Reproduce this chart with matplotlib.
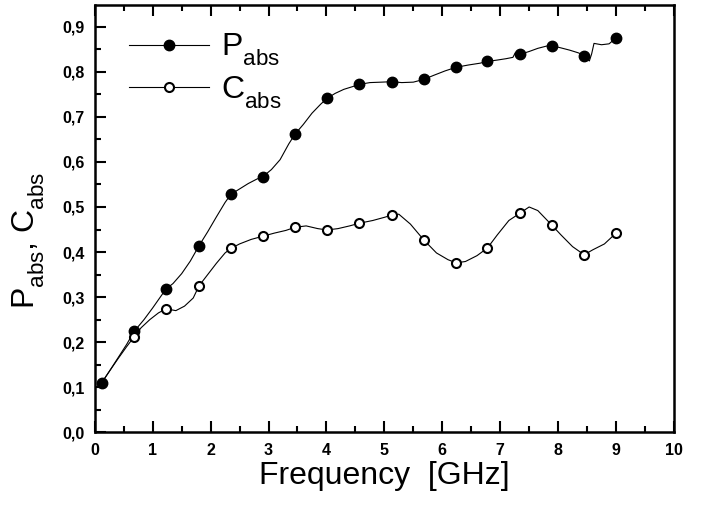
import numpy as np
import matplotlib
matplotlib.use('Agg')
import matplotlib.pyplot as plt
import matplotlib._mathtext as mtext
from matplotlib.ticker import MultipleLocator, FuncFormatter

plt.rcParams['font.family'] = ['Liberation Sans', 'DejaVu Sans']
plt.rcParams['mathtext.fontset'] = 'custom'
plt.rcParams['mathtext.rm'] = 'Liberation Sans'
plt.rcParams['mathtext.it'] = 'Liberation Sans'
# subscripts sit lower in the original
mtext.FontConstantsBase.sub1 = 0.6

# marker positions (GHz) and values
f_mark = [0.12, 0.68, 1.23, 1.80, 2.35, 2.90, 3.46, 4.01, 4.57, 5.13, 5.68, 6.24, 6.78, 7.35, 7.89, 8.45, 9.00]
p_mark = [0.110, 0.224, 0.318, 0.414, 0.528, 0.567, 0.662, 0.741, 0.772, 0.778, 0.783, 0.810, 0.823, 0.839, 0.858, 0.836, 0.875]
c_mark = [0.110, 0.212, 0.274, 0.325, 0.408, 0.435, 0.455, 0.449, 0.464, 0.482, 0.427, 0.376, 0.409, 0.487, 0.460, 0.394, 0.442]

# the measured curves, read at a denser set of frequencies
f_p = [0.12, 0.25, 0.40, 0.55, 0.68, 0.85, 1.00, 1.12, 1.23, 1.35, 1.50, 1.65, 1.80, 1.95, 2.10, 2.25, 2.35,
       2.50, 2.65, 2.80, 2.90, 3.05, 3.20, 3.35, 3.46, 3.60, 3.75, 3.90, 4.01, 4.15, 4.30, 4.45, 4.57,
       4.75, 4.95, 5.13, 5.30, 5.50, 5.68, 5.85, 6.05, 6.24, 6.45, 6.65, 6.78, 6.95, 7.10, 7.22, 7.26,
       7.35, 7.50, 7.65, 7.80, 7.89, 8.05, 8.20, 8.35, 8.45, 8.54, 8.58, 8.62, 8.75, 8.88, 9.00]
p_val = [0.110, 0.135, 0.165, 0.195, 0.224, 0.250, 0.276, 0.298, 0.318, 0.330, 0.352, 0.380, 0.414, 0.445, 0.478, 0.510, 0.528,
         0.540, 0.552, 0.562, 0.567, 0.583, 0.605, 0.640, 0.662, 0.683, 0.708, 0.728, 0.741, 0.752, 0.761, 0.767, 0.772,
         0.776, 0.777, 0.778, 0.776, 0.777, 0.783, 0.792, 0.802, 0.810, 0.815, 0.819, 0.823, 0.826, 0.829, 0.832, 0.842,
         0.839, 0.845, 0.852, 0.857, 0.858, 0.853, 0.848, 0.842, 0.836, 0.824, 0.840, 0.863, 0.860, 0.862, 0.875]

f_c = [0.12, 0.25, 0.40, 0.55, 0.68, 0.80, 0.95, 1.10, 1.23, 1.40, 1.55, 1.70, 1.80, 1.95, 2.10, 2.25, 2.35,
       2.50, 2.70, 2.90, 3.10, 3.30, 3.46, 3.65, 3.85, 4.01, 4.20, 4.40, 4.57, 4.80, 5.00, 5.13, 5.25,
       5.45, 5.68, 5.90, 6.10, 6.24, 6.40, 6.60, 6.78, 6.95, 7.15, 7.35, 7.50, 7.65, 7.80, 7.89, 8.05,
       8.25, 8.45, 8.60, 8.80, 9.00]
c_val = [0.110, 0.135, 0.163, 0.190, 0.212, 0.232, 0.250, 0.265, 0.274, 0.270, 0.280, 0.298, 0.325, 0.350, 0.375, 0.398, 0.408,
         0.418, 0.428, 0.435, 0.442, 0.448, 0.455, 0.458, 0.452, 0.449, 0.452, 0.458, 0.464, 0.470, 0.477, 0.482, 0.484,
         0.462, 0.427, 0.398, 0.383, 0.376, 0.379, 0.392, 0.409, 0.438, 0.470, 0.487, 0.500, 0.492, 0.472, 0.460, 0.438,
         0.412, 0.394, 0.405, 0.418, 0.442]

fig = plt.figure(figsize=(7.02, 5.08), dpi=100)
ax = fig.add_axes([0.135, 0.149, 0.825, 0.841])

ax.plot(f_p, p_val, color='black', lw=0.8)
ax.plot(f_c, c_val, color='black', lw=0.8)
ax.plot(f_mark, p_mark, 'o', color='black', ms=7.5)
ax.plot(f_mark[1:], c_mark[1:], 'o', mfc='white', mec='black', mew=1.5, ms=6.5)

# legend handles
ax.plot([], [], '-o', color='black', lw=0.8, ms=7.5, label=r'P$_{\mathrm{abs}}$')
ax.plot([], [], '-o', color='black', lw=0.8, mfc='white', mec='black', mew=1.5, ms=6.5, label=r'C$_{\mathrm{abs}}$')
handles, labels = ax.get_legend_handles_labels()
ax.legend(handles, labels, loc='upper left', bbox_to_anchor=(0.02, 0.99), frameon=False,
          fontsize=23, handlelength=2.5, handletextpad=0.4, labelspacing=0.2, borderpad=0.2)

ax.set_xlim(0, 10)
ax.set_ylim(0, 0.948)
ax.xaxis.set_major_locator(MultipleLocator(1))
ax.xaxis.set_minor_locator(MultipleLocator(0.5))
ax.yaxis.set_major_locator(MultipleLocator(0.1))
ax.yaxis.set_minor_locator(MultipleLocator(0.05))
ax.yaxis.set_major_formatter(FuncFormatter(lambda v, _: f'{v:.1f}'.replace('.', ',')))

ax.tick_params(which='both', direction='in', top=True, right=False, width=1.5)
ax.tick_params(which='major', length=8, labelsize=11.5)
ax.tick_params(axis='y', which='major', pad=7)
ax.tick_params(axis='x', which='major', pad=8)
ax.tick_params(which='minor', length=4)
for lab in ax.get_xticklabels() + ax.get_yticklabels():
    lab.set_fontweight('bold')
for s in ax.spines.values():
    s.set_linewidth(1.8)

ax.set_xlabel('Frequency  [GHz]', fontsize=23, labelpad=2)
ax.set_ylabel(r'P$_{\mathrm{abs}}$, C$_{\mathrm{abs}}$', fontsize=23)
ax.yaxis.set_label_coords(-0.083, 0.45)

fig.savefig('out.png', dpi=100)
